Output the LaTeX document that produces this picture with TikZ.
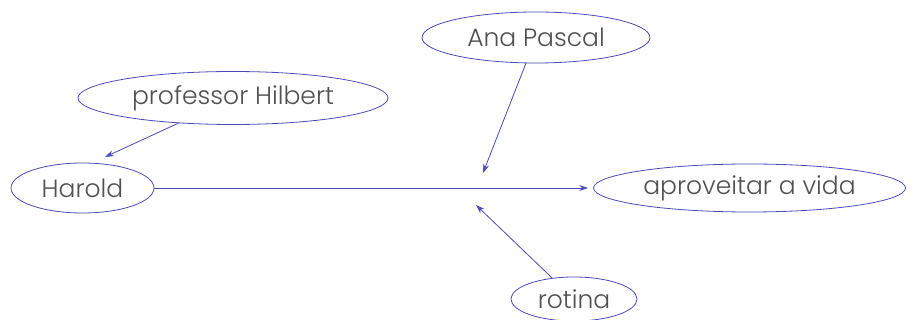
\documentclass[tikz,border=0pt]{standalone}
\usepackage{fontspec}
\setmainfont{Poppins}[UprightFont=* Light]
\usetikzlibrary{shapes.geometric,arrows.meta}
\definecolor{edgeblue}{RGB}{75,75,185}
\definecolor{txtgray}{RGB}{80,80,80}
\tikzset{
  ell/.style={ellipse, draw=edgeblue, line width=0.8pt, inner sep=0pt, text=txtgray, font=\fontsize{25}{30}\selectfont},
  conn/.style={draw=edgeblue, line width=0.8pt, -{Stealth[length=9pt,width=6pt]}}
}
\begin{document}
\begin{tikzpicture}[x=1pt,y=-1pt]
\useasboundingbox (0,0) rectangle (919,320);
\node[ell, minimum width=143pt, minimum height=50pt] (harold) at (82.5,188) {Harold};
\node[ell, minimum width=310pt, minimum height=53pt] (hilbert) at (233,98) {professor Hilbert};
\node[ell, minimum width=228pt, minimum height=51pt] (ana) at (536,37.5) {Ana Pascal};
\node[ell, minimum width=312pt, minimum height=48pt] (vida) at (749.5,188) {aproveitar a vida};
\node[ell, minimum width=126pt, minimum height=44pt] (rotina) at (574,299) {rotina};
\coordinate (h1) at (105,157);
\coordinate (m1) at (483,173);
\coordinate (m2) at (476,205);
\draw[conn, shorten >=5pt] (harold) -- (vida);
\draw[conn] (hilbert) -- (h1);
\draw[conn] (ana) -- (m1);
\draw[conn] (rotina) -- (m2);
\end{tikzpicture}
\end{document}
